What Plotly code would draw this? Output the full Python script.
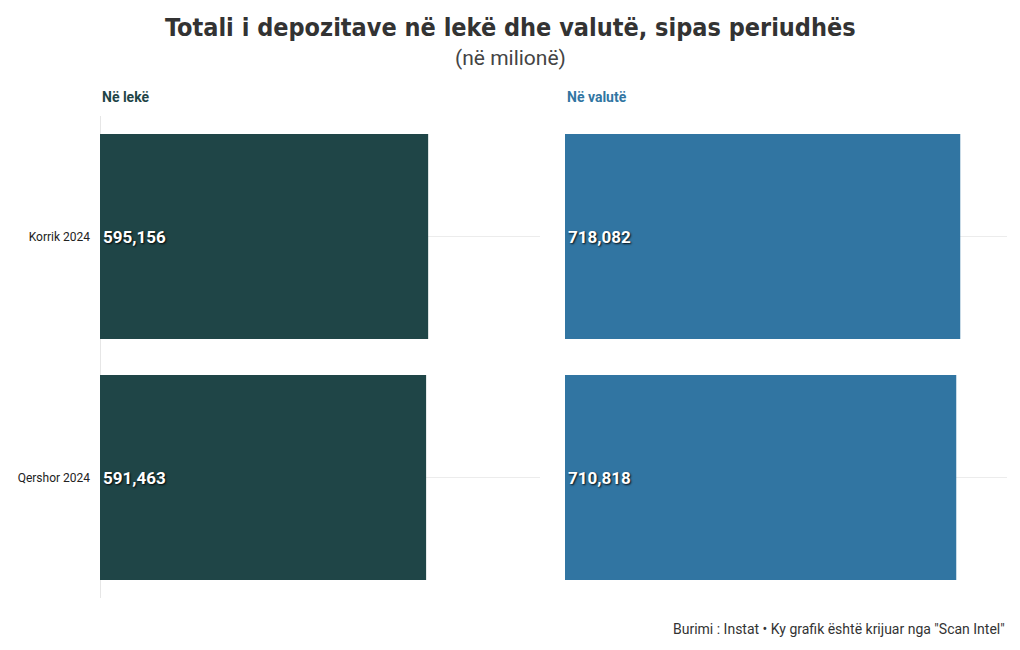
import plotly.graph_objects as go

categories = ["Korrik 2024", "Qershor 2024"]
leke_values = [595156, 591463]
valute_values = [718082, 710818]
panel_titles = ["Në lekë", "Në valutë"]
title_text = "Totali i depozitave në lekë dhe valutë, sipas periudhës"
subtitle_text = "(në milionë)"
source_text = 'Burimi : Instat • Ky grafik është krijuar nga "Scan Intel"'

FONT = "Roboto, sans-serif"
TITLE_FONT = "DejaVu Sans Condensed, Roboto, sans-serif"
C_LEKE = "#1f4547"
C_VAL = "#3175a2"

W, H = 1020, 650
OFF = 8  # page body margin
L = 100 - OFF
T = 116 - OFF
R = W - (1007 - OFF)
B = H - (598 - OFF)
PW, PH = W - L - R, H - T - B


def px(x):
    return (x - OFF - L) / PW


def py(y):
    return (H - B - (y - OFF)) / PH


def fmt(v):
    return f"{v:,}"


label_font = dict(color="white", size=17, family=FONT, weight="bold",
                  shadow="1px 1px 2px rgba(0,0,0,0.9)")

fig = go.Figure()
fig.add_trace(go.Bar(
    y=categories, x=leke_values, orientation="h",
    marker=dict(color=C_LEKE, line=dict(width=0)),
    text=[fmt(v) for v in leke_values], textposition="inside",
    insidetextanchor="start", textfont=label_font,
    xaxis="x", yaxis="y", showlegend=False, hoverinfo="x+y",
))
fig.add_trace(go.Bar(
    y=categories, x=valute_values, orientation="h",
    marker=dict(color=C_VAL, line=dict(width=0)),
    text=[fmt(v) for v in valute_values], textposition="inside",
    insidetextanchor="start", textfont=label_font,
    xaxis="x2", yaxis="y2", showlegend=False, hoverinfo="x+y",
))

yax_common = dict(
    categoryorder="array", categoryarray=categories, autorange="reversed",
    showgrid=True, gridcolor="#ececec", gridwidth=1, ticks="", automargin=False,
)
fig.update_layout(
    width=W, height=H,
    paper_bgcolor="white", plot_bgcolor="white",
    margin=dict(l=L, r=R, t=T, b=B),
    bargap=0.15,
    font=dict(family=FONT, color="#333"),
    xaxis=dict(domain=[0, px(540)], range=[0, 798000], showticklabels=False,
               showgrid=False, zeroline=True, zerolinecolor="#e6e6e6", zerolinewidth=1,
               automargin=False),
    xaxis2=dict(domain=[px(565), 1], range=[0, 803000], showticklabels=False,
                showgrid=False, zeroline=False, automargin=False),
    yaxis=dict(anchor="x", ticklabelstandoff=9,
               tickfont=dict(family=FONT, size=12, color="#222"), **yax_common),
    yaxis2=dict(anchor="x2", showticklabels=False, **yax_common),
)

annotations = [
    dict(text=f"<b>{title_text}</b>", x=px(510), y=py(27), xref="paper", yref="paper",
         xanchor="center", yanchor="middle", showarrow=False,
         font=dict(family=TITLE_FONT, size=25, color="#333")),
    dict(text=subtitle_text, x=px(510), y=py(58), xref="paper", yref="paper",
         xanchor="center", yanchor="middle", showarrow=False,
         font=dict(family=FONT, size=21, color="#444")),
    dict(text=f"<b>{panel_titles[0]}</b>", x=0, xref="x domain", y=py(97),
         yref="paper", xanchor="left", yanchor="middle", showarrow=False,
         font=dict(family=FONT, size=14, color=C_LEKE)),
    dict(text=f"<b>{panel_titles[1]}</b>", x=0, xref="x2 domain", y=py(97),
         yref="paper", xanchor="left", yanchor="middle", showarrow=False,
         font=dict(family=FONT, size=14, color=C_VAL)),
    dict(text=source_text, x=px(1007), y=py(629), xref="paper", yref="paper",
         xanchor="right", yanchor="middle", showarrow=False,
         font=dict(family=FONT, size=14, color="#333")),
]
fig.update_layout(annotations=annotations)

fig.write_html("out.html")
